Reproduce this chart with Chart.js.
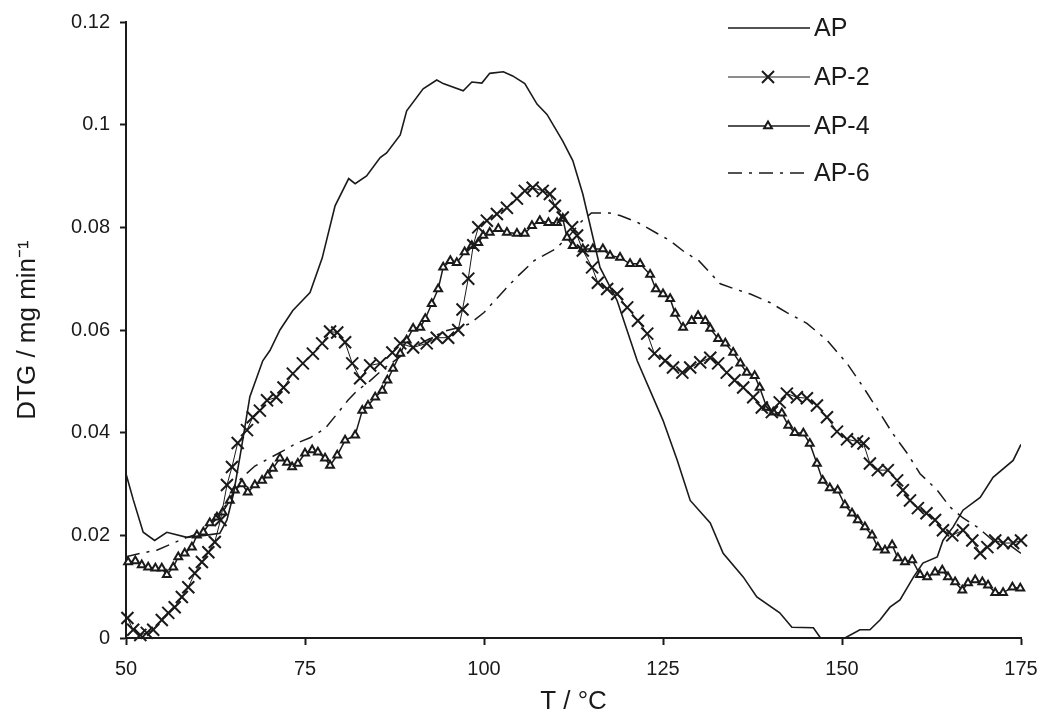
<!DOCTYPE html>
<html>
<head>
<meta charset="utf-8">
<script src="https://cdn.jsdelivr.net/npm/chart.js@4.4.1/dist/chart.umd.min.js"></script>
<style>
  html, body { margin: 0; padding: 0; background: #fff; }
  canvas { display: block; }
</style>
</head>
<body>
<canvas id="myChart" width="1040" height="715"></canvas>
<script>
// series labels
const seriesNames = ['AP', 'AP-2', 'AP-4', 'AP-6'];

// AP (solid line)
const apT = [50, 51, 52.4, 54, 55.7, 58.5, 61, 63.1, 64.1, 65, 66, 67.3, 69.1, 70.1, 71.5, 73.3, 75.7, 77.4, 79.2, 81.1, 82, 83.6, 85.5, 86.4, 88.3, 89.2, 91.5, 93.4, 94.3, 97.1, 98.3, 99.7, 100.8, 102.7, 104, 105.7, 107.4, 108.8, 111, 112.4, 113.8, 116.2, 118.6, 121.4, 125, 127, 128.8, 131.6, 133.4, 136.2, 138.1, 141.3, 143, 146, 147, 150.4, 152.5, 153.9, 155.3, 156.7, 158.1, 160, 161.3, 163.3, 164.1, 165.5, 166.9, 169.3, 171.1, 173.9, 175];
const apV = [0.032, 0.027, 0.0206, 0.019, 0.0206, 0.0196, 0.020, 0.0204, 0.023, 0.028, 0.036, 0.047, 0.054, 0.056, 0.060, 0.0638, 0.0673, 0.074, 0.0842, 0.0895, 0.0885, 0.090, 0.0936, 0.0945, 0.098, 0.1027, 0.107, 0.1087, 0.108, 0.1066, 0.1083, 0.1081, 0.110, 0.1103, 0.1095, 0.108, 0.104, 0.102, 0.0968, 0.093, 0.0865, 0.0722, 0.0657, 0.054, 0.0424, 0.0346, 0.0268, 0.0224, 0.0165, 0.0119, 0.008, 0.0049, 0.0021, 0.002, 0, 0, 0.0016, 0.0016, 0.0035, 0.006, 0.0074, 0.0119, 0.0146, 0.0158, 0.019, 0.0216, 0.0249, 0.0274, 0.0313, 0.0346, 0.0377];

// AP-2 (x markers)
const ap2T = [50.2, 51, 52, 52.9, 53.8, 55, 55.9, 56.8, 57.8, 58.7, 59.6, 60.6, 61.5, 62.4, 63.2, 64.1, 64.8, 65.6, 66.9, 67.7, 68.7, 69.7, 71, 72, 73.3, 74.7, 76.1, 77.4, 78.5, 79.5, 80.6, 81.6, 82.7, 84.1, 85.5, 87.2, 88.3, 90.1, 92, 93.4, 95, 96.4, 97, 97.8, 98.5, 99.2, 100.4, 101.8, 103.2, 104.6, 105.7, 106.8, 108.2, 109.2, 109.9, 111, 112.3, 113, 113.8, 115.1, 115.9, 117.2, 118.6, 120, 121.5, 122.8, 123.8, 125.3, 126.4, 127.7, 128.8, 130.2, 131.6, 132.7, 133.9, 135, 136.2, 137.6, 138.8, 140.2, 141.3, 142.3, 143.7, 145.1, 146.5, 147.9, 149.3, 150.7, 152.1, 153, 153.9, 155, 156.4, 157.7, 158.5, 159.5, 160.6, 161.8, 163, 164.1, 165.4, 166.9, 168.2, 169.3, 170.3, 171.4, 172.5, 173.9, 175];
const ap2V = [0.0039, 0.0016, 0.0006, 0.001, 0.0016, 0.0035, 0.0049, 0.006, 0.008, 0.0099, 0.0126, 0.0148, 0.0167, 0.0187, 0.023, 0.0298, 0.0333, 0.038, 0.0405, 0.043, 0.0443, 0.0463, 0.0469, 0.0488, 0.0515, 0.0535, 0.0554, 0.0574, 0.0597, 0.0595, 0.0576, 0.0535, 0.0506, 0.0531, 0.0535, 0.0556, 0.0574, 0.0566, 0.0574, 0.0585, 0.0585, 0.060, 0.064, 0.070, 0.0765, 0.080, 0.0813, 0.0826, 0.0838, 0.0856, 0.0871, 0.0877, 0.0871, 0.0865, 0.0842, 0.0819, 0.080, 0.0784, 0.0755, 0.0722, 0.0692, 0.068, 0.067, 0.0644, 0.0618, 0.0593, 0.0554, 0.054, 0.0527, 0.0517, 0.0527, 0.0537, 0.0546, 0.0535, 0.0517, 0.0502, 0.0488, 0.0469, 0.0449, 0.044, 0.0459, 0.0476, 0.0469, 0.0467, 0.0453, 0.043, 0.0402, 0.0387, 0.0383, 0.0379, 0.034, 0.0327, 0.0327, 0.0307, 0.0288, 0.0268, 0.0253, 0.0243, 0.023, 0.021, 0.020, 0.021, 0.019, 0.0165, 0.0177, 0.019, 0.0185, 0.0185, 0.019];

// AP-4 (triangle markers)
const ap4T = [50.3, 51.3, 52.2, 53.1, 54.1, 55, 55.7, 56.6, 57.3, 58.2, 59.2, 59.9, 60.8, 61.7, 62.7, 63.5, 64.5, 65.2, 66.2, 67, 68, 69, 69.8, 70.5, 71.5, 72.5, 73.2, 74, 75, 76, 76.8, 77.8, 78.5, 79.5, 80.6, 82, 83, 83.8, 84.8, 85.8, 86.5, 87.3, 88.3, 89.2, 90.1, 91.1, 91.8, 92.7, 93.6, 94.3, 95.3, 96.2, 97.3, 98.3, 99.2, 99.9, 100.8, 102, 103.2, 104.6, 105.7, 106.7, 107.8, 109, 110.2, 111, 111.6, 112.4, 113.8, 115.2, 116.6, 117.6, 119, 120.4, 121.8, 123.2, 124, 125, 126, 126.7, 127.8, 129, 129.9, 130.9, 131.6, 132.7, 133.7, 134.8, 135.8, 136.7, 137.8, 138.5, 139.5, 140.4, 141.6, 142.5, 143.4, 144.6, 145.5, 146.5, 147.3, 148.3, 149.4, 150.4, 151.4, 152.2, 153.2, 154.2, 155, 156, 157, 157.8, 158.8, 159.8, 160.9, 161.9, 163, 164, 164.8, 165.8, 166.8, 167.6, 168.6, 169.6, 170.4, 171.4, 172.5, 173.8, 174.9];
const ap4V = [0.0148, 0.015, 0.0142, 0.0138, 0.0136, 0.0136, 0.0123, 0.0138, 0.0158, 0.0165, 0.0177, 0.020, 0.0206, 0.0224, 0.0235, 0.0245, 0.0268, 0.0288, 0.030, 0.0284, 0.0298, 0.0307, 0.0317, 0.033, 0.035, 0.0342, 0.0333, 0.034, 0.036, 0.0366, 0.0362, 0.035, 0.0336, 0.0356, 0.0385, 0.0395, 0.0443, 0.0453, 0.0469, 0.0482, 0.0502, 0.0525, 0.0554, 0.058, 0.0603, 0.0605, 0.0622, 0.0651, 0.068, 0.0722, 0.0735, 0.0731, 0.0752, 0.0764, 0.077, 0.0784, 0.079, 0.0797, 0.079, 0.0788, 0.0788, 0.0803, 0.0813, 0.0809, 0.0809, 0.0817, 0.078, 0.0764, 0.0758, 0.0758, 0.0758, 0.0745, 0.0741, 0.0729, 0.0729, 0.0708, 0.068, 0.067, 0.0661, 0.0632, 0.0605, 0.0618, 0.0628, 0.0618, 0.0603, 0.0583, 0.0574, 0.0556, 0.0535, 0.0517, 0.0511, 0.0488, 0.0449, 0.044, 0.0438, 0.0414, 0.040, 0.0399, 0.0379, 0.034, 0.0307, 0.0292, 0.0288, 0.0259, 0.0243, 0.023, 0.0216, 0.020, 0.0177, 0.0171, 0.0181, 0.0156, 0.0148, 0.0152, 0.0123, 0.0119, 0.0128, 0.0132, 0.0119, 0.0109, 0.0093, 0.0107, 0.0113, 0.0109, 0.0103, 0.0088, 0.0088, 0.0099, 0.0097];

// AP-6 (dash-dot line)
const ap6T = [50, 52, 54.3, 56.6, 58.5, 60.5, 62.5, 64.5, 66, 68, 70, 72, 73.9, 75.7, 77.8, 79.5, 81, 82.3, 84, 86, 88, 90, 92, 94.5, 96.5, 98, 100, 103, 104.8, 107, 110, 112, 113.5, 115, 117.5, 119, 121.4, 124.2, 126, 128, 130, 133, 135, 137.2, 140, 142.3, 145.1, 147.9, 150.7, 153, 155.3, 157, 159.1, 160.9, 163.3, 165.1, 166.8, 168.9, 171.1, 173, 175];
const ap6V = [0.0158, 0.0165, 0.0171, 0.0185, 0.0196, 0.0205, 0.023, 0.027, 0.031, 0.0335, 0.035, 0.0365, 0.038, 0.039, 0.0408, 0.0437, 0.0463, 0.0482, 0.050, 0.0525, 0.0545, 0.0565, 0.058, 0.0598, 0.0605, 0.0612, 0.0634, 0.068, 0.0706, 0.0735, 0.0758, 0.0785, 0.081, 0.0828, 0.0828, 0.0823, 0.081, 0.0788, 0.0774, 0.0752, 0.0735, 0.069, 0.068, 0.067, 0.0653, 0.0634, 0.0613, 0.058, 0.0535, 0.0488, 0.0438, 0.040, 0.036, 0.032, 0.0288, 0.0255, 0.0235, 0.0216, 0.019, 0.0185, 0.0165];

// axis ticks
const xTicks = [50, 75, 100, 125, 150, 175];
const yTicks = [0, 0.02, 0.04, 0.06, 0.08, 0.1, 0.12];

const ink = '#1a1a1a';
const fontFam = '"Liberation Sans", Arial, sans-serif';
const dashDot = [14, 7, 3, 7];

function pts(t, v) {
  return t.map((x, i) => ({ x: x, y: v[i] }));
}

// draws line sample + marker + label for each series, top right
const sideLegend = {
  id: 'sideLegend',
  afterDraw(chart) {
    const ctx = chart.ctx;
    const x0 = 728, x1 = 810, mx = 768;
    const rowY = [28, 77, 126, 173];
    ctx.save();
    chart.data.datasets.forEach((ds, i) => {
      const y = rowY[i];
      ctx.strokeStyle = ink;
      ctx.lineWidth = ds.borderWidth;
      ctx.setLineDash(ds.borderDash || []);
      ctx.beginPath();
      ctx.moveTo(x0, y);
      ctx.lineTo(x1, y);
      ctx.stroke();
      ctx.setLineDash([]);
      if (ds.pointRadius > 0) {
        const r = ds.pointRadius;
        ctx.lineWidth = ds.pointBorderWidth;
        ctx.beginPath();
        if (ds.pointStyle === 'crossRot') {
          const o = r * Math.SQRT1_2;
          ctx.moveTo(mx - o, y - o); ctx.lineTo(mx + o, y + o);
          ctx.moveTo(mx - o, y + o); ctx.lineTo(mx + o, y - o);
          ctx.stroke();
        } else {
          ctx.moveTo(mx, y - r);
          ctx.lineTo(mx + r * Math.sin(2 * Math.PI / 3), y - r * Math.cos(2 * Math.PI / 3));
          ctx.lineTo(mx + r * Math.sin(4 * Math.PI / 3), y - r * Math.cos(4 * Math.PI / 3));
          ctx.closePath();
          ctx.fillStyle = '#fff';
          ctx.fill();
          ctx.stroke();
        }
      }
      ctx.fillStyle = ink;
      ctx.font = '25px ' + fontFam;
      ctx.textAlign = 'left';
      ctx.textBaseline = 'middle';
      ctx.fillText(ds.label, 814, y + 1);
    });
    ctx.restore();
  }
};

const ctx = document.getElementById('myChart');

const myChart = new Chart(ctx, {
  type: 'line',
  data: {
    datasets: [{
      label: seriesNames[0],
      data: pts(apT, apV),
      borderColor: ink,
      borderWidth: 1.6,
      pointRadius: 0,
      tension: 0
    }, {
      label: seriesNames[1],
      data: pts(ap2T, ap2V),
      borderColor: ink,
      borderWidth: 1,
      pointStyle: 'crossRot',
      pointRadius: 8.5,
      pointBorderWidth: 2,
      pointBorderColor: ink,
      clip: 12,
      tension: 0
    }, {
      label: seriesNames[2],
      data: pts(ap4T, ap4V),
      borderColor: ink,
      borderWidth: 1.5,
      pointStyle: 'triangle',
      pointRadius: 4.5,
      pointBorderWidth: 2,
      pointBorderColor: ink,
      pointBackgroundColor: '#fff',
      clip: 8,
      tension: 0
    }, {
      label: seriesNames[3],
      data: pts(ap6T, ap6V),
      borderColor: ink,
      borderWidth: 1.5,
      borderDash: dashDot,
      pointRadius: 0,
      tension: 0
    }]
  },
  options: {
    responsive: false,
    animation: false,
    events: [],
    layout: { padding: { top: 21, right: 19, left: 0, bottom: 0 } },
    plugins: {
      legend: { display: false },
      tooltip: { enabled: false }
    },
    scales: {
      x: {
        type: 'linear',
        min: 50,
        max: 175,
        afterFit: (s) => { s.height = 77; s.paddingRight = 0; s.paddingLeft = 0; },
        afterBuildTicks: (s) => { s.ticks = xTicks.map(v => ({ value: v })); },
        border: { display: true, color: ink, width: 2 },
        grid: { drawOnChartArea: false, drawTicks: true, tickLength: 7, tickColor: ink, tickWidth: 2 },
        ticks: { color: ink, padding: 12, maxRotation: 0, font: { family: fontFam, size: 20 } },
        title: { display: true, text: 'T / °C', color: ink, padding: 0, font: { family: fontFam, size: 26, lineHeight: 1 } }
      },
      y: {
        min: 0,
        max: 0.12,
        afterFit: (s) => { s.width = 126; },
        afterBuildTicks: (s) => { s.ticks = yTicks.map(v => ({ value: v })); },
        border: { display: true, color: ink, width: 2 },
        grid: { drawOnChartArea: false, drawTicks: true, tickLength: 6, tickColor: ink, tickWidth: 2 },
        ticks: {
          color: ink,
          padding: 10,
          font: { family: fontFam, size: 20 },
          callback: (v) => String(Number(v.toFixed(2)))
        },
        title: { display: true, text: 'DTG / mg min⁻¹', color: ink, padding: { top: 15, bottom: 0 }, font: { family: fontFam, size: 26, lineHeight: 1 } }
      }
    }
  },
  plugins: [sideLegend]
});
</script>
</body>
</html>
